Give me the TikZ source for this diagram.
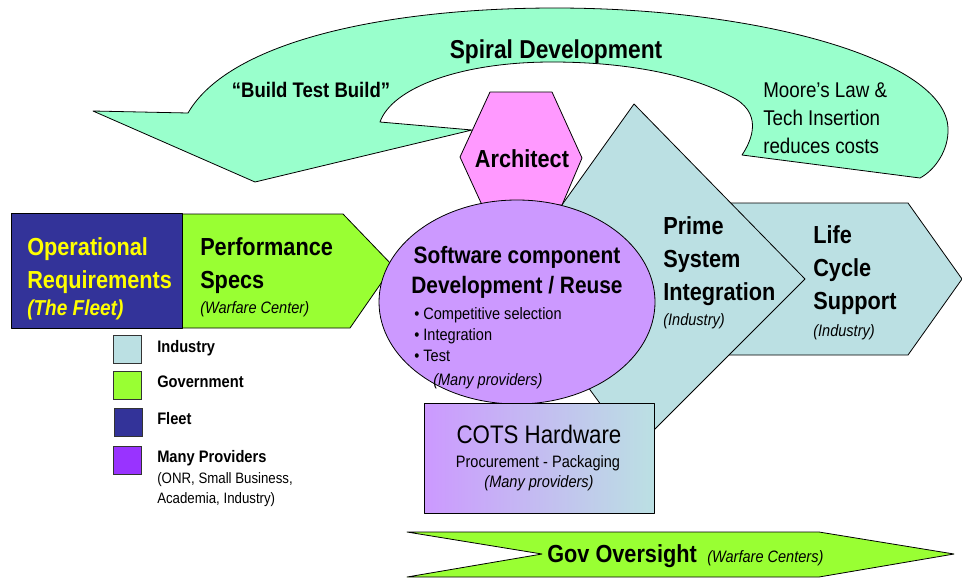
\documentclass[tikz,border=0pt]{standalone}
\usepackage{fontspec}
\setmainfont{Liberation Sans}[FakeStretch=0.88]
\usetikzlibrary{positioning}
\definecolor{mint}{HTML}{99FFCC}
\definecolor{archpink}{HTML}{FF99FF}
\definecolor{provlilac}{HTML}{CC99FF}
\definecolor{induscyan}{HTML}{BBE0E3}
\definecolor{govgreen}{HTML}{99FF33}
\definecolor{fleetblue}{HTML}{333399}
\definecolor{provpurple}{HTML}{9933FF}
\definecolor{fleetyellow}{HTML}{FFFF00}
\tikzset
{
    outline/.style   = {draw=black, line width=0.6pt, line join=round},
    txt/.style       = {inner sep=0pt, align=left},
    titletxt/.style  = {txt, font=\fontsize{19.4}{24}\selectfont\bfseries},
    quotetxt/.style  = {txt, font=\fontsize{15.8}{20}\selectfont\bfseries},
    notetxt/.style   = {txt, font=\fontsize{16}{21}\selectfont},
    headtxt/.style   = {txt, font=\fontsize{18.5}{25}\selectfont\bfseries},
    swtxt/.style     = {txt, align=center, font=\fontsize{17.8}{22.5}\selectfont\bfseries},
    cotstxt/.style   = {txt, font=\fontsize{19}{24}\selectfont},
    smalltxt/.style  = {txt, font=\fontsize{12.4}{16}\selectfont},
    legendtxt/.style = {txt, font=\fontsize{12.5}{15}\selectfont\bfseries},
    legendbox/.style = {draw=black!80, line width=0.6pt, minimum size=21pt, inner sep=0pt}
}
\begin{document}
\begin{tikzpicture}[x=0.75pt, y=-0.75pt]
\useasboundingbox (0,0) rectangle (962,579);
\draw[outline, fill=mint] (188,113) .. controls (230,40) and (390,8) .. (555,8)
  .. controls (760,8) and (945,60) .. (948,128) .. controls (949,150) and (935,170) .. (920,178)
  -- (742,155) .. controls (752,140) and (764,112) .. (730,96)
  .. controls (680,70) and (610,62) .. (552,62) .. controls (460,62) and (392,88) .. (380,122)
  -- (472,130) -- (255,182) -- (93,111) -- cycle;
\draw[outline, fill=induscyan] (720,203) -- (908,203) -- (962,279) -- (908,355) -- (720,355) -- cycle;
\draw[outline, fill=induscyan] (634,104) -- (805,279) -- (634,450) -- (509,279) -- cycle;
\draw[outline, fill=archpink] (490,92) -- (552,92) -- (582,158) -- (562,205) -- (482,205) -- (460,157) -- cycle;
\draw[outline, fill=govgreen] (182,214) -- (343,214) -- (393,266) -- (350,328) -- (182,328) -- cycle;
\draw[outline, fill=fleetblue] (11,213) rectangle (182,328);
\draw[outline, fill=provlilac] (517,302) ellipse [x radius=138, y radius=102];
\shade[left color=provlilac, right color=induscyan] (424,403) rectangle (654,513);
\draw[outline] (424,403) rectangle (654,513);
\draw[outline, fill=govgreen] (407,532) -- (819,532) -- (954,554) -- (819,577) -- (407,577) -- (542,554) -- cycle;

\node[titletxt, anchor=base] (spiral) at (556,58) {Spiral Development};
\node[quotetxt, anchor=base] (btb) at (311,97) {“Build Test Build”};
\node[notetxt, anchor=north west] (moore) at (763,82) {Moore's Law \&\\Tech Insertion\\reduces costs};
\node[headtxt, anchor=base] (arch) at (522,167) {Architect};
\node[headtxt, anchor=north west] (prime) at (663,216) {Prime\\System\\Integration};
\node[smalltxt, anchor=base west] (primeby) at (663,325) {\itshape (Industry)};
\node[headtxt, anchor=north west] (life) at (813,225) {Life\\Cycle\\Support};
\node[smalltxt, anchor=base west] (lifeby) at (813,336) {\itshape (Industry)};
\node[headtxt, anchor=north west] (perf) at (200,237) {Performance\\Specs};
\node[smalltxt, anchor=base west] (perfby) at (200,313) {\itshape (Warfare Center)};
\node[headtxt, anchor=north west, text=fleetyellow] (oper) at (27,237) {Operational\\Requirements};
\node[txt, anchor=base west, text=fleetyellow, font=\fontsize{16.2}{20}\selectfont\bfseries\itshape] (operby) at (27,315) {(The Fleet)};
\node[swtxt, anchor=north] (soft) at (517,246) {Software component\\Development / Reuse};
\node[smalltxt, anchor=north west] (tasks) at (414,307) {\textbullet\ Competitive selection\\\textbullet\ Integration\\\textbullet\ Test};
\node[smalltxt, anchor=base west] (softby) at (433,385) {\itshape (Many providers)};
\node[cotstxt, anchor=base] (cots) at (539,443) {COTS Hardware};
\node[smalltxt, anchor=base] (proc) at (538,467) {Procurement - Packaging};
\node[smalltxt, anchor=base] (cotsby) at (539,487) {\itshape (Many providers)};
\node[headtxt, anchor=base west] (gov) at (547,562) {Gov Oversight};
\node[smalltxt, anchor=base west] (govby) at (707,562) {\itshape (Warfare Centers)};

\node[legendbox, fill=induscyan] (keyind) at (127,349) {};
\node[legendbox, fill=govgreen] (keygov) at (127,385) {};
\node[legendbox, fill=fleetblue] (keyfleet) at (128.5,422.5) {};
\node[legendbox, fill=provpurple] (keyprov) at (127,460) {};
\node[legendtxt, anchor=base west] (indlbl) at (157,352) {Industry};
\node[legendtxt, anchor=base west] (govlbl) at (157,387) {Government};
\node[legendtxt, anchor=base west] (fleetlbl) at (157,424) {Fleet};
\node[legendtxt, anchor=base west] (provlbl) at (157,462) {Many Providers};
\node[txt, anchor=north west, font=\fontsize{11.3}{15}\selectfont] (provlist) at (157,472) {(ONR, Small Business,\\Academia, Industry)};
\end{tikzpicture}
\end{document}
